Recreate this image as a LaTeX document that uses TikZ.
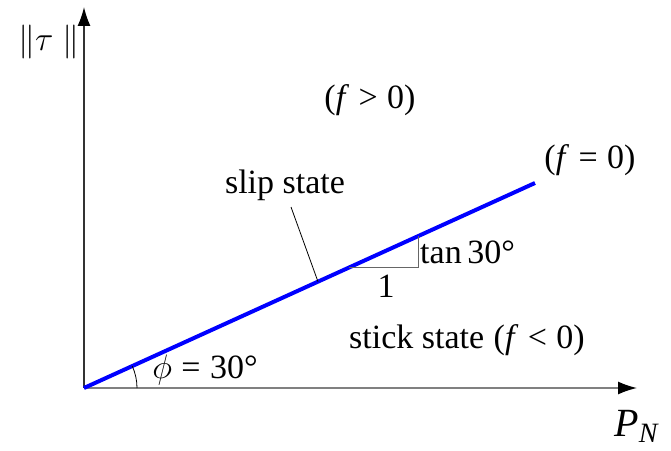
\RequirePackage{fix-cm}
\documentclass[tikz,border=0pt]{standalone}
\usepackage{fontspec}
\setmainfont{Liberation Serif}
\usepackage{tikz}
\usetikzlibrary{calc,arrows.meta,positioning}
\definecolor{slipblue}{RGB}{0,0,255}

\begin{document}
\begin{tikzpicture}[x=1pt,y=1pt,font=\fontsize{34}{38}\selectfont,
      ax/.style={line width=1.5pt,-{Latex[length=19pt,width=13pt,black]}},
      lb/.style={inner sep=1pt,anchor=center},
      thinln/.style={line width=0.8pt}]
    \useasboundingbox (0,0) rectangle (671,450);
    % axes
    \coordinate (O) at (84,62);
    \coordinate (Xend) at (637,62);
    \coordinate (Yend) at (84,443);
    \draw[ax,black!50] (O) -- (Xend);
    \draw[ax,black!80] (O) -- (Yend);
    \node[lb] (tau) at (49,408) {$\bigg\|\tau\;\bigg\|$};
    \node[lb,font=\fontsize{40}{44}\selectfont] (PN) at (637,24) {\textit{P}\textsubscript{\textit{N}}};
    % yield line f=0
    \coordinate (E) at (535,267);
    \draw[slipblue,line width=4pt] (O) -- (E);
    \node[lb] (fzero) at (590,290) {(\textit{f}\;=\;0)};
    \node[lb] (fpos)  at (370,350) {(\textit{f}\;>\;0)};
    \node[lb] (stick) at (467,110) {stick state\;(\textit{f}\;<\;0)};
    % slope triangle
    \coordinate (T1) at ($(O)!0.5876!(E)$);
    \coordinate (T2) at ($(O)!0.7406!(E)$);
    \draw[thinln,black!60] (T1) -- (T2 |- T1) -- (T2);
    \node[lb,anchor=west] (tanlbl) at (419,198) {tan\,30°};
    \node[lb] (one) at (386,164) {1};
    % slip state
    \coordinate (S) at ($(O)!0.5188!(E)$);
    \node[lb] (slip) at (285,265) {slip state};
    \coordinate (Stop) at (291,243);
    \draw[thinln] (Stop) -- (S);
    % angle
    \draw[thinln] ($(O)+(53,0)$) arc[start angle=0,end angle=24.4,radius=53];
    \node[lb] (phi) at (205,80) {$\phi$\;=\;30°};
  \end{tikzpicture}
\end{document}
